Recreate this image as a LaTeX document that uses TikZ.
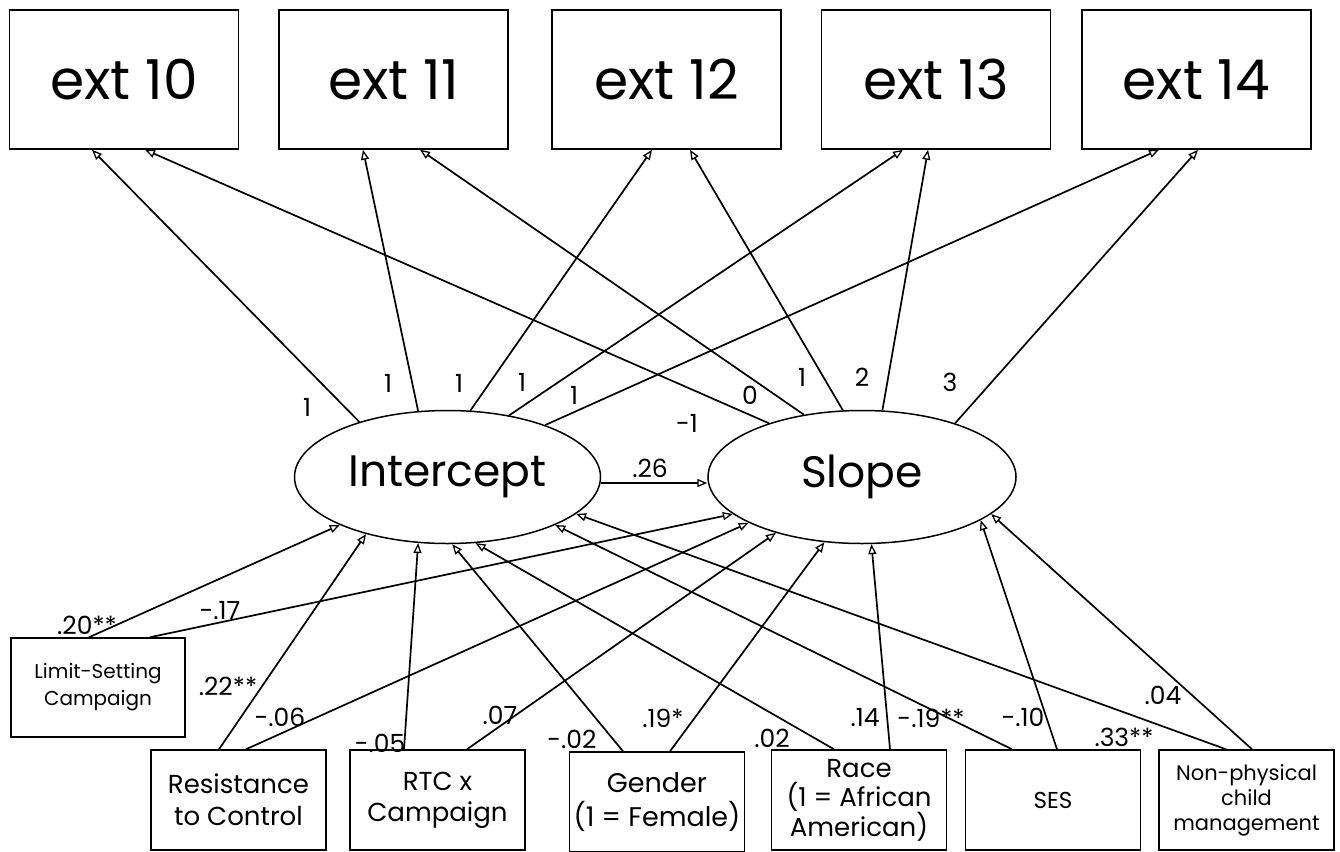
\documentclass[tikz,border=0pt]{standalone}
\usepackage{fontspec}
\setmainfont{Poppins}
\usetikzlibrary{arrows.meta,shapes.geometric}
\begin{document}
\begin{tikzpicture}[x=1pt,y=-1pt,
  box/.style={draw, line width=1.5pt, inner sep=0pt, align=center},
  topbox/.style={box, minimum width=229pt, minimum height=139pt, font=\fontsize{55}{60}\selectfont},
  botbox/.style={box, minimum width=175pt, minimum height=100pt},
  lat/.style={draw, ellipse, line width=1.5pt, inner sep=0pt, minimum width=306pt, minimum height=133pt, font=\fontsize{44}{50}\selectfont},
  conn/.style={line width=1.7pt, -{Triangle[open, length=10pt, width=8pt, line width=1.3pt]}},
  lab/.style={font=\fontsize{25}{27}\selectfont, inner sep=0pt},
]
\useasboundingbox (0,0) rectangle (1340,851);
% top boxes
\node[topbox] (e10) at (124,79.5) {ext 10};
\node[topbox] (e11) at (393.5,79.5) {ext 11};
\node[topbox] (e12) at (666.5,79.5) {ext 12};
\node[topbox] (e13) at (936,79.5) {ext 13};
\node[topbox] (e14) at (1196.5,79.5) {ext 14};
% latent
\node[lat] (int) at (447.5,477) {Intercept};
\node[lat, minimum width=308pt] (slo) at (862,477) {Slope};
% predictors
\node[botbox, font=\fontsize{20}{27}\selectfont, minimum width=174pt, minimum height=99pt] (lim) at (98,687.5) {Limit-Setting\\Campaign};
\node[botbox, font=\fontsize{26}{32}\selectfont] (res) at (238.5,800) {Resistance\\to Control};
\node[botbox, font=\fontsize{26}{31}\selectfont] (rtc) at (437.5,800) {RTC x\\Campaign};
\node[botbox, font=\fontsize{27}{34}\selectfont] (gen) at (657,802) {Gender\\(1 = Female)};
\node[botbox, font=\fontsize{26}{29}\selectfont] (race) at (859,800) {Race\\(1 = African\\American)};
\node[botbox, font=\fontsize{23}{26}\selectfont] (ses) at (1053,800) {SES};
\node[botbox, font=\fontsize{21}{25}\selectfont] (np) at (1246.5,800) {Non-physical\\child\\management};
% loadings
\draw[conn] (int.148) -- ([xshift=-32pt]e10.south);
\draw[conn] (int.114) -- ([xshift=-30.5pt]e11.south);
\draw[conn] (int.71) -- ([xshift=-14.5pt]e12.south);
\draw[conn] (int.45) -- ([xshift=-33pt]e13.south);
\draw[conn] (int.28) -- ([xshift=-37.5pt]e14.south);
\draw[conn] (slo.150) -- ([xshift=21pt]e10.south);
\draw[conn] (slo.133) -- ([xshift=26.5pt]e11.south);
\draw[conn] (slo.106) -- ([xshift=23.5pt]e12.south);
\draw[conn] (slo.73) -- ([xshift=-8pt]e13.south);
\draw[conn] (slo.30) -- ([xshift=1.5pt]e14.south);
% regression paths
\draw[conn] ([xshift=-9pt]lim.north) -- (int.204);
\draw[conn] ([xshift=52pt]lim.north) -- (slo.196);
\draw[conn] ([xshift=-19.5pt]res.north) -- (int.215);
\draw[conn] ([xshift=7.5pt]res.north) -- (slo.202);
\draw[conn] ([xshift=-33.5pt]rtc.north) -- (int.246);
\draw[conn] ([xshift=29.5pt]rtc.north) -- (slo.213);
\draw[conn] ([xshift=-34pt]gen.north) -- (int.274);
\draw[conn] ([xshift=13pt]gen.north) -- (slo.240);
\draw[conn] ([xshift=-25pt]race.north) -- (int.293);
\draw[conn] ([xshift=31pt]race.north) -- (slo.278);
\draw[conn] ([xshift=-41pt]ses.north) -- (int.336);
\draw[conn] ([xshift=4pt]ses.north) -- (slo.340);
\draw[conn] ([xshift=-20.5pt]np.north) -- (int.344);
\draw[conn] ([xshift=5.5pt]np.north) -- (slo.344);
\draw[conn] ([yshift=-6pt]int.east) -- ([yshift=-6pt]slo.west);
% labels
\node[lab] at (650,468) {.26};
\node[lab] at (307,407) {1};
\node[lab] at (388,383) {1};
\node[lab] at (459,383) {1};
\node[lab] at (522,382) {1};
\node[lab] at (574,395) {1};
\node[lab] at (687,423) {-1};
\node[lab] at (750,395) {0};
\node[lab] at (802,377) {1};
\node[lab] at (862,377) {2};
\node[lab] at (950,382) {3};
\node[lab] at (87,625) {.20**};
\node[lab] at (220,611) {-.17};
\node[lab] at (228,686) {.22**};
\node[lab] at (280,717) {-.06};
\node[lab] at (380,743) {-.05};
\node[lab] at (500,715) {.07};
\node[lab] at (572,739) {-.02};
\node[lab] at (663,718) {.19*};
\node[lab] at (772,738) {.02};
\node[lab] at (865,718) {.14};
\node[lab] at (931,718) {-.19**};
\node[lab] at (1023,717) {-.10};
\node[lab] at (1124,737) {.33**};
\node[lab] at (1163,695) {.04};
\end{tikzpicture}
\end{document}
